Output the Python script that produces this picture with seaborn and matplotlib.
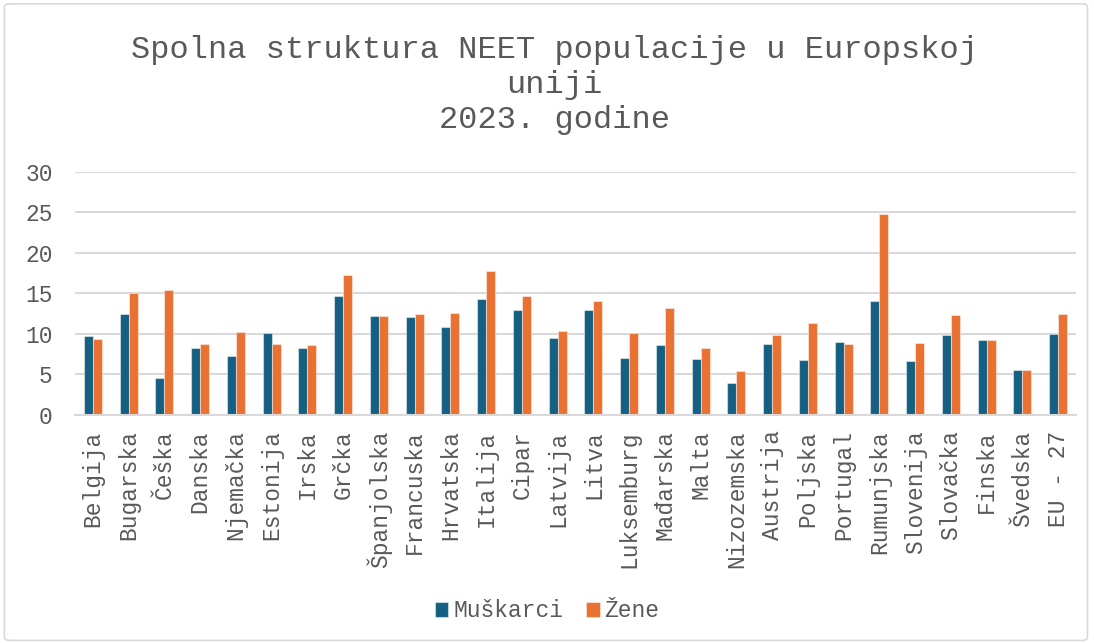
import pandas as pd
import matplotlib.pyplot as plt
import seaborn as sns
from matplotlib.patches import FancyBboxPatch

# Podaci (postotak NEET populacije, 2023.)
drzave = ['Belgija', 'Bugarska', 'Češka', 'Danska', 'Njemačka', 'Estonija', 'Irska',
          'Grčka', 'Španjolska', 'Francuska', 'Hrvatska', 'Italija', 'Cipar', 'Latvija',
          'Litva', 'Luksemburg', 'Mađarska', 'Malta', 'Nizozemska', 'Austrija', 'Poljska',
          'Portugal', 'Rumunjska', 'Slovenija', 'Slovačka', 'Finska', 'Švedska', 'EU - 27']
muskarci = [9.7, 12.4, 4.5, 8.2, 7.3, 10.1, 8.2, 14.7, 12.2, 12.1, 10.9, 14.3, 12.9, 9.5,
            12.9, 7.0, 8.6, 6.9, 3.9, 8.7, 6.8, 9.0, 14.0, 6.6, 9.9, 9.3, 5.5, 10.0]
zene = [9.4, 15.1, 15.4, 8.8, 10.2, 8.8, 8.6, 17.3, 12.2, 12.4, 12.6, 17.7, 14.7, 10.4,
        14.0, 10.1, 13.2, 8.2, 5.4, 9.9, 11.4, 8.8, 24.8, 8.9, 12.3, 9.3, 5.6, 12.4]

df = pd.DataFrame({'drzava': drzave * 2,
                   'spol': ['Muškarci'] * len(drzave) + ['Žene'] * len(drzave),
                   'vrijednost': muskarci + zene})

sns.set_theme(style='white')
plt.rcParams['font.family'] = ['Liberation Mono', 'DejaVu Sans Mono']

siva = '#595959'
fig = plt.figure(figsize=(10.94, 6.43), dpi=100)
ax = fig.add_axes([0.0686, 0.3546, 0.915, 0.3784])

sns.barplot(data=df, x='drzava', y='vrijednost', hue='spol',
            palette=['#156082', '#E97132'], saturation=1, width=0.5, ax=ax,
            edgecolor=(1, 1, 1, 0.45), linewidth=0.8, legend=True)

ax.set_ylim(0, 30)
ax.set_yticks(range(0, 31, 5))
ax.set_xlim(-0.5, len(drzave) - 0.5)
ax.grid(axis='y', color='#d9d9d9', linewidth=1.5)
ax.set_axisbelow(True)
for s in ['top', 'right', 'left']:
    ax.spines[s].set_visible(False)
ax.spines['bottom'].set_color('#d9d9d9')
ax.spines['bottom'].set_linewidth(1.5)
ax.tick_params(axis='both', length=0, colors=siva, labelsize=16.5)
ax.tick_params(axis='y', pad=16)
ax.tick_params(axis='x', pad=11)
plt.setp(ax.get_xticklabels(), rotation=90)
ax.set_xlabel('')
ax.set_ylabel('')

fig.text(0.507, 0.945, 'Spolna struktura NEET populacije u Europskoj\nuniji\n2023. godine',
         ha='center', va='top', fontsize=23, color=siva, linespacing=1.22)

ax.legend(loc='center', bbox_to_anchor=(0.5, 0.05), bbox_transform=fig.transFigure,
          ncol=2, frameon=False, fontsize=16.5, handlelength=0.6, handleheight=0.6,
          handletextpad=0.2, columnspacing=1.0, labelcolor=siva)

# okvir oko grafikona
fig.patches.append(FancyBboxPatch((0.004, 0.004), 0.99, 0.99, boxstyle='round,pad=0,rounding_size=0.005',
                                  transform=fig.transFigure, fill=False, edgecolor='#d9d9d9', linewidth=1.2))

fig.savefig('out.png', dpi=100)
